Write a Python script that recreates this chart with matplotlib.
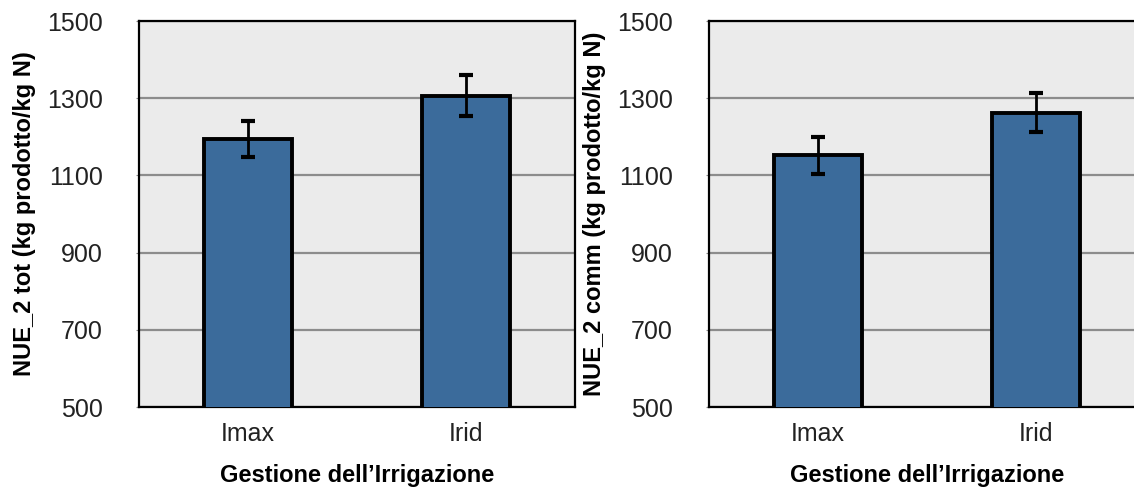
import matplotlib
matplotlib.use("Agg")
import matplotlib.pyplot as plt

plt.rcParams['font.family'] = ['Liberation Sans', 'DejaVu Sans']

# treatments and NUE means with error
gestione = ['Imax', 'Irid']
nue_tot = [1195, 1307]
nue_tot_err = [47, 54]
nue_comm = [1152, 1263]
nue_comm_err = [47, 50]
yticks = [500, 700, 900, 1100, 1300, 1500]

bar_color = '#3b6b9b'
bg_color = '#ebebeb'

fig = plt.figure(figsize=(11.34, 4.91), dpi=100)
ax1 = fig.add_axes([0.1226, 0.171, 0.3845, 0.786])
ax2 = fig.add_axes([0.6252, 0.171, 0.3845, 0.786])


def draw_panel(ax, vals, errs, ylabel):
    ax.set_facecolor(bg_color)
    ax.set_axisbelow(True)
    ax.yaxis.grid(True, color='#8c8c8c', linewidth=1.6)
    x = range(len(gestione))
    ax.bar(x, vals, width=0.4, color=bar_color, edgecolor='black',
           linewidth=2.8, zorder=3)
    ax.errorbar(x, vals, yerr=errs, fmt='none', ecolor='black',
                elinewidth=2, capsize=5, capthick=3, zorder=4)
    ax.set_xlim(-0.5, 1.5)
    ax.set_ylim(500, 1500)
    ax.set_yticks(yticks)
    ax.set_xticks(list(x))
    ax.set_xticklabels(gestione)
    ax.tick_params(axis='y', length=2, color='#8c8c8c', pad=24, labelsize=18,
                   labelcolor='#222222')
    ax.tick_params(axis='x', length=0, pad=11, labelsize=18,
                   labelcolor='#222222')
    for s in ax.spines.values():
        s.set_linewidth(1.6)
        s.set_color('black')
    ax.set_ylabel(ylabel, fontsize=17, fontweight='bold', labelpad=8)
    ax.set_xlabel("Gestione dell\u2019Irrigazione", fontsize=17,
                  fontweight='bold', labelpad=13)


draw_panel(ax1, nue_tot, nue_tot_err, 'NUE_2 tot (kg prodotto/kg N)')
draw_panel(ax2, nue_comm, nue_comm_err, 'NUE_2 comm (kg prodotto/kg N)')

fig.savefig('out.png', dpi=100)
